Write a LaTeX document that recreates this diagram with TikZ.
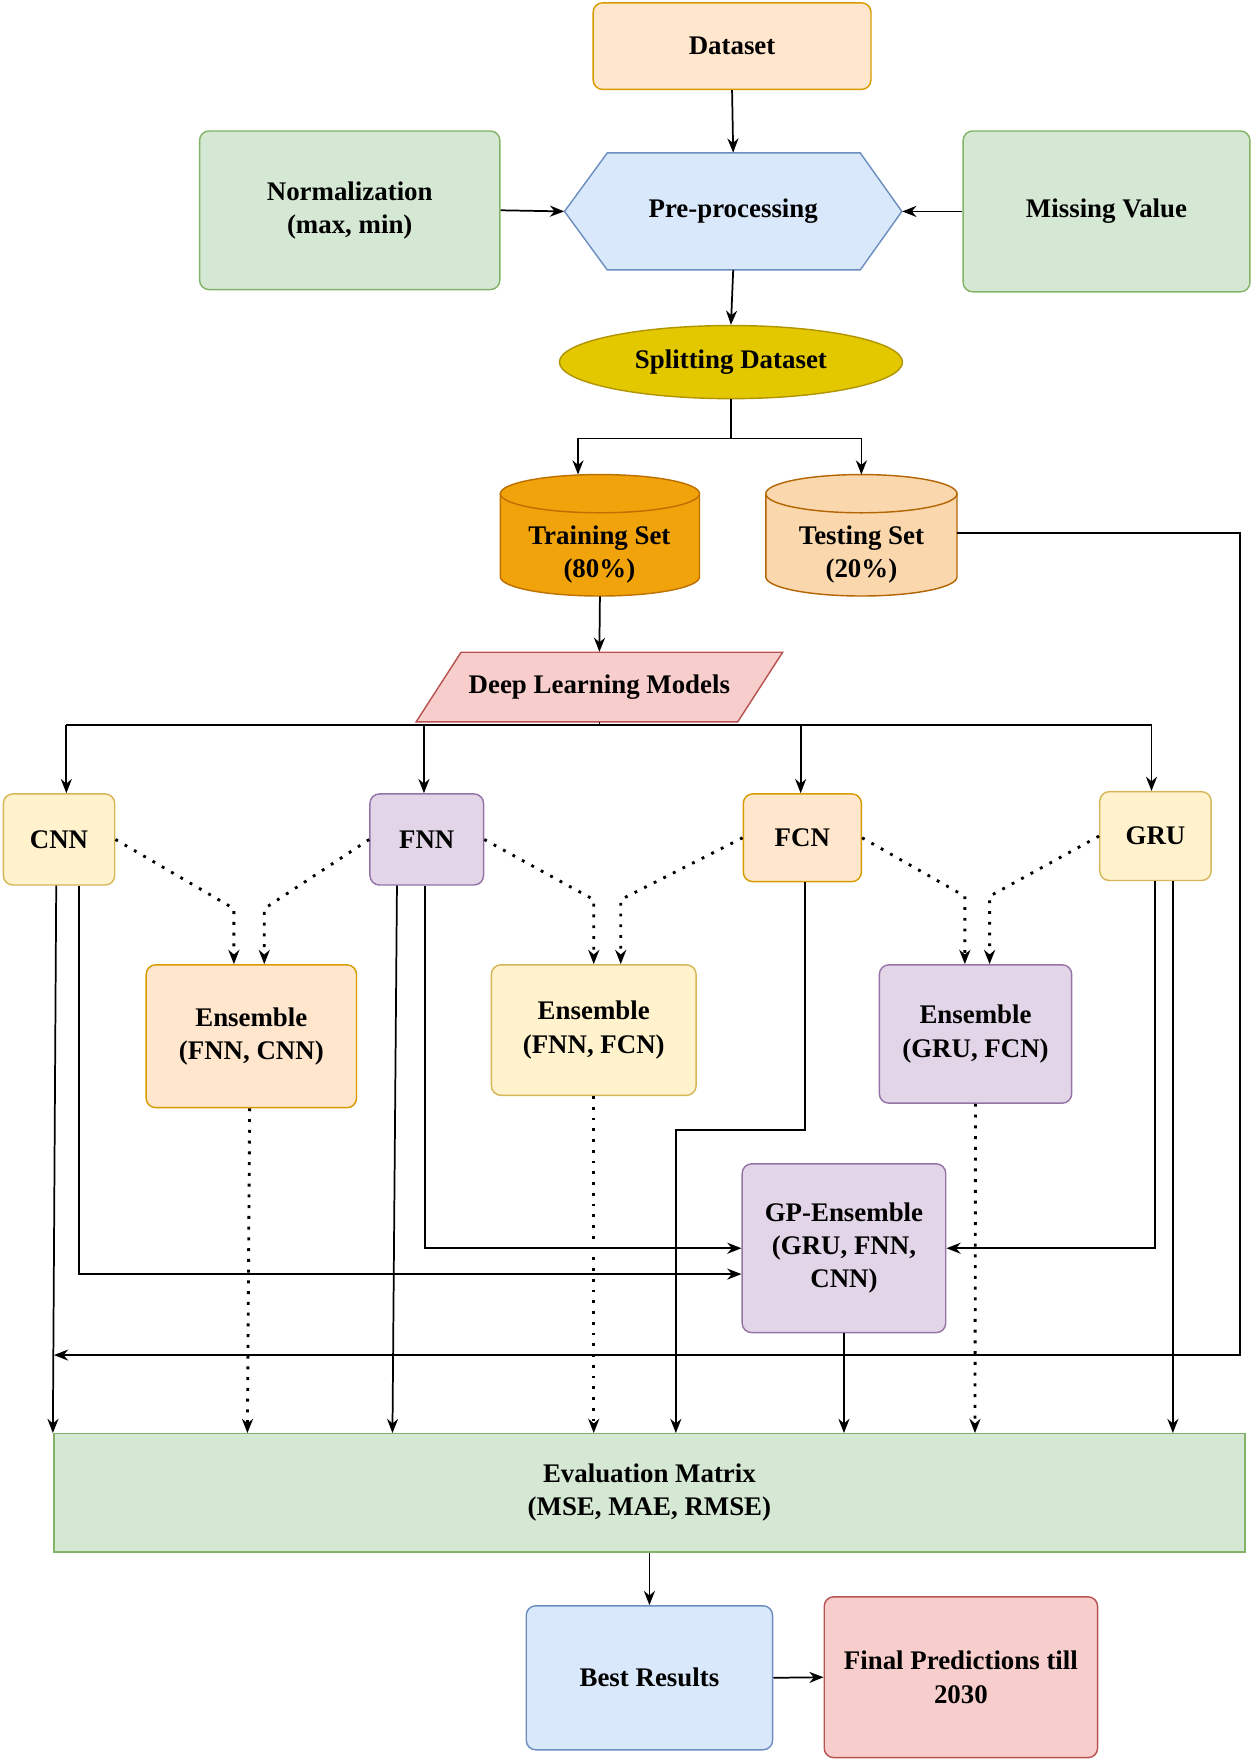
\documentclass[tikz,border=0pt]{standalone}
\usepackage{fontspec}
\setmainfont{Liberation Serif}
\usetikzlibrary{arrows.meta,shapes.geometric}
\begin{document}
\begin{tikzpicture}[x=0.025cm,y=-0.025cm,
  every node/.style={font=\fontsize{17}{21}\selectfont\bfseries, align=center},
  box/.style={draw, rounded corners=6pt, line width=0.9pt},
  arr/.style={-{Stealth[length=9pt,width=7pt]}, line width=1.1pt},
  dot/.style={-{Stealth[length=9pt,width=7pt]}, line width=1.8pt, dash pattern=on 1.8pt off 5pt},
  ln/.style={line width=1.1pt}]
\definecolor{oF}{HTML}{FFE6CC}\definecolor{oD}{HTML}{D79B00}
\definecolor{gF}{HTML}{D5E8D4}\definecolor{gD}{HTML}{82B366}
\definecolor{bF}{HTML}{DAE8FC}\definecolor{bD}{HTML}{6C8EBF}
\definecolor{yF}{HTML}{FFF2CC}\definecolor{yD}{HTML}{D6B656}
\definecolor{pF}{HTML}{E1D5E7}\definecolor{pD}{HTML}{9673A6}
\definecolor{rF}{HTML}{F8CECC}\definecolor{rD}{HTML}{B85450}
\definecolor{sF}{HTML}{E3C800}\definecolor{sD}{HTML}{B09500}
\definecolor{tF}{HTML}{F0A30A}\definecolor{tD}{HTML}{BD7000}
\definecolor{qF}{HTML}{FAD7AC}\definecolor{qD}{HTML}{B46504}
\useasboundingbox (0,0) rectangle (1117,1566);

\node[box,fill=oF,draw=oD,minimum width=6.175cm,minimum height=1.925cm] (ds) at (651,41) {Dataset};
\node[box,fill=gF,draw=gD,minimum width=6.675cm,minimum height=3.525cm] (nm) at (311,187) {Normalization\\(max, min)};
\node[box,fill=gF,draw=gD,minimum width=6.375cm,minimum height=3.575cm] (mv) at (984,188) {Missing Value};
\fill[bF,draw=bD,line width=0.9pt] (502,188)--(540,136)--(765,136)--(802,188)--(765,240)--(540,240)--cycle;
\node[minimum width=7.5cm,minimum height=2.6cm,inner sep=0] (pp) at (652,188) {Pre-processing};
\node[ellipse,fill=sF,draw=sD,line width=0.9pt,minimum width=7.625cm,minimum height=1.625cm,inner sep=0] (sp) at (650,322) {Splitting Dataset};

\fill[tF,draw=tD,line width=0.9pt] (445,439)--(445,513) arc[start angle=180,end angle=360,x radius=2.2125cm,y radius=0.425cm]--(622,439)--cycle;
\draw[fill=tF,draw=tD,line width=0.9pt] (533.5,439) ellipse [x radius=2.2125cm,y radius=0.425cm];
\node[minimum width=4.425cm,minimum height=2.7cm,inner sep=0] (tr) at (533.5,476) {};
\node at (533,493) {Training Set\\(80\%)};
\fill[qF,draw=qD,line width=0.9pt] (681,439)--(681,513) arc[start angle=180,end angle=360,x radius=2.125cm,y radius=0.425cm]--(851,439)--cycle;
\draw[fill=qF,draw=qD,line width=0.9pt] (766,439) ellipse [x radius=2.125cm,y radius=0.425cm];
\node[minimum width=4.25cm,minimum height=2.7cm,inner sep=0] (te) at (766,476) {};
\node at (766,493) {Testing Set\\(20\%)};

\fill[rF,draw=rD,line width=0.9pt] (370,642)--(410,580)--(696,580)--(656,642)--cycle;
\node[minimum width=8.15cm,minimum height=1.55cm,inner sep=0] (dl) at (533,611) {Deep Learning Models};

\node[box,fill=yF,draw=yD,minimum width=2.475cm,minimum height=2.025cm] (cnn) at (52.5,746.5) {CNN};
\node[box,fill=pF,draw=pD,minimum width=2.525cm,minimum height=2.025cm] (fnn) at (379.5,746.5) {FNN};
\node[box,fill=oF,draw=oD,minimum width=2.625cm,minimum height=1.95cm] (fcn) at (713.5,745) {FCN};
\node[box,fill=yF,draw=yD,minimum width=2.475cm,minimum height=1.975cm] (gru) at (1027.5,743.5) {GRU};

\node[box,fill=oF,draw=oD,minimum width=4.675cm,minimum height=3.175cm] (e1) at (223.5,921.5) {Ensemble\\(FNN, CNN)};
\node[box,fill=yF,draw=yD,minimum width=4.55cm,minimum height=2.9cm] (e2) at (528,916) {Ensemble\\(FNN, FCN)};
\node[box,fill=pF,draw=pD,minimum width=4.275cm,minimum height=3.075cm] (e3) at (867.5,919.5) {Ensemble\\(GRU, FCN)};
\node[box,fill=pF,draw=pD,minimum width=4.525cm,minimum height=3.75cm] (gp) at (750.5,1110) {GP-Ensemble\\(GRU, FNN,\\CNN)};
\node[box,rounded corners=0,fill=gF,draw=gD,minimum width=26.475cm,minimum height=2.625cm] (ev) at (577.5,1327.5) {Evaluation Matrix\\(MSE, MAE, RMSE)};
\node[box,fill=bF,draw=bD,minimum width=5.475cm,minimum height=3.2cm] (br) at (577.5,1492) {Best Results};
\node[box,fill=rF,draw=rD,minimum width=6.075cm,minimum height=3.575cm] (fp) at (854.5,1491.5) {Final Predictions till\\2030};

% top flow
\draw[arr] (ds.south) -- (pp.north);
\draw[arr] (nm.east) -- (pp.west);
\draw[arr] (mv.west) -- (pp.east);
\draw[arr] (pp.south) -- (sp.north);
\coordinate (sb) at (650,390);
\draw[arr] (sp.south) -- (sb) -| (514,422);
\draw[arr] (sb) -| (766,422);
\draw[arr] (tr.south) -- (dl.north);
% testing set feedback
\coordinate (t1) at (1103,474);
\coordinate (t2) at (1103,1205);
\coordinate (t3) at (48,1205);
\draw[arr] (851,474) -- (t1) -- (t2) -- (t3);
% deep learning distribution
\draw[ln] (533,642) -- (533,645);
\draw[ln] (59,645) -- (1024,645);
\draw[arr] (59,645) -- (cnn.north -| 59,0);
\draw[arr] (377,645) -- (fnn.north -| 377,0);
\draw[arr] (712,645) -- (fcn.north -| 712,0);
\draw[arr] (1024,645) -- (gru.north -| 1024,0);
% dotted
\draw[dot] (cnn.east) -- (208,808) -- (e1.north -| 208,0);
\draw[dot] (fnn.west) -- (235,808) -- (e1.north -| 235,0);
\draw[dot] (fnn.east) -- (528,800) -- (e2.north -| 528,0);
\draw[dot] (fcn.west) -- (552,800) -- (e2.north -| 552,0);
\draw[dot] (fcn.east) -- (858,797) -- (e3.north -| 858,0);
\draw[dot] (gru.west) -- (880,797) -- (e3.north -| 880,0);
\draw[dot] (e1.south -| 222,0) -- (ev.north -| 220,0);
\draw[dot] (e2.south) -- (ev.north -| 528,0);
\draw[dot] (e3.south) -- (ev.north -| 867,0);
% solid to eval and GP
\draw[arr] (cnn.south -| 50,0) -- (ev.north -| 47,0);
\draw[arr] (cnn.south -| 70,0) -- (70,1133) -- (gp.west |- 0,1133);
\draw[arr] (fnn.south -| 353,0) -- (ev.north -| 349,0);
\draw[arr] (fnn.south -| 378,0) -- (378,1110) -- (gp.west);
\draw[arr] (fcn.south -| 716,0) -- (716,1005) -- (601,1005) -- (ev.north -| 601,0);
\draw[arr] (gru.south -| 1027,0) -- (1027,1110) -- (gp.east);
\draw[arr] (gru.south -| 1043,0) -- (ev.north -| 1043,0);
\draw[arr] (gp.south) -- (ev.north -| gp.south);
\draw[arr] (ev.south) -- (br.north);
\draw[arr] (br.east) -- (fp.west);
\end{tikzpicture}
\end{document}
